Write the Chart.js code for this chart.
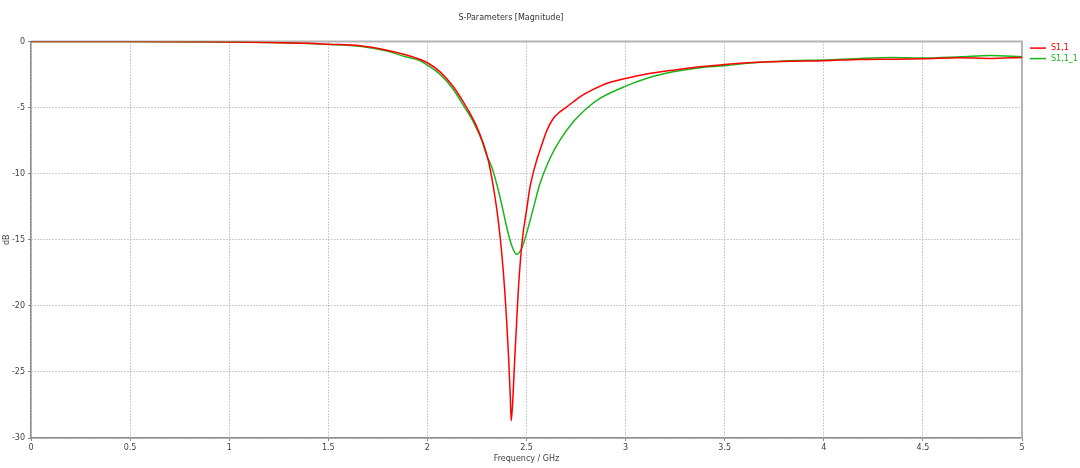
<!DOCTYPE html>
<html>
<head>
<meta charset="utf-8">
<script src="https://cdn.jsdelivr.net/npm/chart.js@4"></script>
<style>
  html, body { margin: 0; padding: 0; background: #ffffff; }
  #wrap { width: 1080px; height: 468px; position: relative; }
</style>
</head>
<body>
<div id="wrap"><canvas id="c"></canvas></div>
<script>
// ---- Data ----
const chartTitle = "S-Parameters [Magnitude]";
const xTitle = "Frequency / GHz";
const yTitle = "dB";
const seriesNames = ["S1,1", "S1,1_1"];

const freqRed = [0, 0.5, 0.9, 1.0, 1.2, 1.4, 1.5, 1.66, 1.79, 1.89, 1.963, 2.0, 2.064, 2.131, 2.181, 2.215, 2.249, 2.282, 2.307, 2.324, 2.341, 2.358, 2.375, 2.39, 2.40, 2.41, 2.418, 2.423, 2.432, 2.44, 2.449, 2.458, 2.469, 2.482, 2.50, 2.518, 2.551, 2.568, 2.585, 2.602, 2.635, 2.67, 2.703, 2.77, 2.837, 2.904, 3.0, 3.105, 3.24, 3.374, 3.5, 3.643, 3.78, 3.85, 4.0, 4.18, 4.35, 4.5, 4.69, 4.84, 5.0];
const s11Red = [0, 0, -0.02, -0.03, -0.06, -0.13, -0.2, -0.32, -0.64, -1.0, -1.35, -1.6, -2.29, -3.42, -4.56, -5.44, -6.45, -7.71, -8.98, -10.24, -11.76, -13.6, -16.0, -18.8, -21.2, -24.0, -26.8, -28.7, -26.8, -24.2, -21.6, -19.0, -16.6, -14.6, -12.8, -11.0, -9.0, -8.22, -7.46, -6.75, -5.82, -5.3, -4.94, -4.18, -3.62, -3.17, -2.79, -2.46, -2.16, -1.91, -1.73, -1.58, -1.50, -1.48, -1.45, -1.35, -1.33, -1.30, -1.22, -1.27, -1.20];

const freqGreen = [0, 0.5, 1.0, 1.2, 1.4, 1.5, 1.66, 1.79, 1.89, 1.963, 2.0, 2.064, 2.131, 2.181, 2.232, 2.274, 2.299, 2.324, 2.349, 2.374, 2.400, 2.425, 2.450, 2.475, 2.50, 2.534, 2.568, 2.618, 2.669, 2.736, 2.803, 2.870, 3.0, 3.105, 3.24, 3.374, 3.5, 3.643, 3.78, 3.85, 4.0, 4.18, 4.35, 4.5, 4.69, 4.84, 5.0];
const s11Green = [0, 0, -0.03, -0.07, -0.14, -0.21, -0.36, -0.7, -1.15, -1.45, -1.78, -2.49, -3.62, -4.81, -6.07, -7.46, -8.6, -9.48, -10.74, -12.26, -14.03, -15.42, -16.1, -15.67, -14.53, -12.64, -10.74, -8.85, -7.46, -6.07, -5.06, -4.3, -3.37, -2.79, -2.29, -1.98, -1.83, -1.6, -1.48, -1.43, -1.40, -1.27, -1.2, -1.25, -1.15, -1.05, -1.15];

const xMin = 0, xMax = 5, xStep = 0.5;
const yMin = -30, yMax = 0, yStep = 5;

// ---- Styles ----
const redColor = "#ff0000";
const greenColor = "#1cb41c";
const FONT = "Tahoma, 'DejaVu Sans', 'Liberation Sans', sans-serif";

function toPoints(xs, ys) { return xs.map((x, i) => ({ x: x, y: ys[i] })); }
function fmt(v) { return String(Math.round(v * 100) / 100); }

const framePlugin = {
  id: "frame",
  beforeDatasetsDraw(chart) {
    const { ctx, chartArea: a } = chart;
    ctx.save();
    ctx.strokeStyle = "#b4b4b4";
    ctx.lineWidth = 2;
    ctx.beginPath();
    ctx.moveTo(a.left, a.top);
    ctx.lineTo(a.right, a.top);
    ctx.lineTo(a.right, a.bottom);
    ctx.stroke();
    ctx.restore();
  }
};

const legendPlugin = {
  id: "sideLegend",
  afterDraw(chart) {
    const { ctx, chartArea: a } = chart;
    ctx.save();
    ctx.font = "8px " + FONT;
    ctx.textBaseline = "middle";
    chart.data.datasets.forEach((ds, i) => {
      const y = a.top + 6.5 + i * 10.5;
      const x0 = a.right + 8;
      ctx.strokeStyle = ds.borderColor;
      ctx.lineWidth = 1.5;
      ctx.beginPath();
      ctx.moveTo(x0, y);
      ctx.lineTo(x0 + 16, y);
      ctx.stroke();
      ctx.fillStyle = ds.borderColor;
      ctx.fillText(ds.label, x0 + 21, y);
    });
    ctx.restore();
  }
};

const gridOpts = { color: "#9a9a9a", lineWidth: 1, tickLength: 3, tickColor: "#888888", tickBorderDash: [], borderDash: [1, 2] };
const borderOpts = { display: true, color: "#8c8c8c", width: 1.5, dash: [1, 2] };

new Chart(document.getElementById("c"), {
  type: "line",
  data: {
    datasets: [
      { label: seriesNames[0], data: toPoints(freqRed, s11Red), borderColor: redColor, backgroundColor: redColor, borderWidth: 1.5, pointRadius: 0, cubicInterpolationMode: "monotone", order: 1 },
      { label: seriesNames[1], data: toPoints(freqGreen, s11Green), borderColor: greenColor, backgroundColor: greenColor, borderWidth: 1.5, pointRadius: 0, cubicInterpolationMode: "monotone", order: 2 }
    ]
  },
  options: {
    responsive: true,
    maintainAspectRatio: false,
    animation: false,
    layout: { padding: { left: 0, right: 58, top: 0, bottom: 0 } },
    plugins: {
      legend: { display: false },
      tooltip: { enabled: false },
      title: {
        display: true,
        text: chartTitle,
        color: "#333333",
        font: { family: FONT, size: 8, weight: "normal" },
        padding: { top: 13, bottom: 19 }
      }
    },
    scales: {
      x: {
        type: "linear",
        min: xMin, max: xMax,
        ticks: { stepSize: xStep, color: "#444444", font: { family: FONT, size: 8 }, padding: 2, maxRotation: 0, autoSkip: false, callback: fmt },
        grid: gridOpts,
        border: borderOpts,
        title: { display: true, text: xTitle, color: "#444444", font: { family: FONT, size: 8 }, padding: { top: 0, bottom: 4 } },
        afterFit(scale) { scale.height = 30; }
      },
      y: {
        type: "linear",
        min: yMin, max: yMax,
        ticks: { stepSize: yStep, color: "#444444", font: { family: FONT, size: 8 }, padding: 3, callback: fmt },
        grid: gridOpts,
        border: borderOpts,
        title: { display: true, text: yTitle, color: "#444444", font: { family: FONT, size: 8 }, padding: { top: 2, bottom: 0 } },
        afterFit(scale) { scale.width = 31; }
      }
    }
  },
  plugins: [framePlugin, legendPlugin]
});
</script>
</body>
</html>
